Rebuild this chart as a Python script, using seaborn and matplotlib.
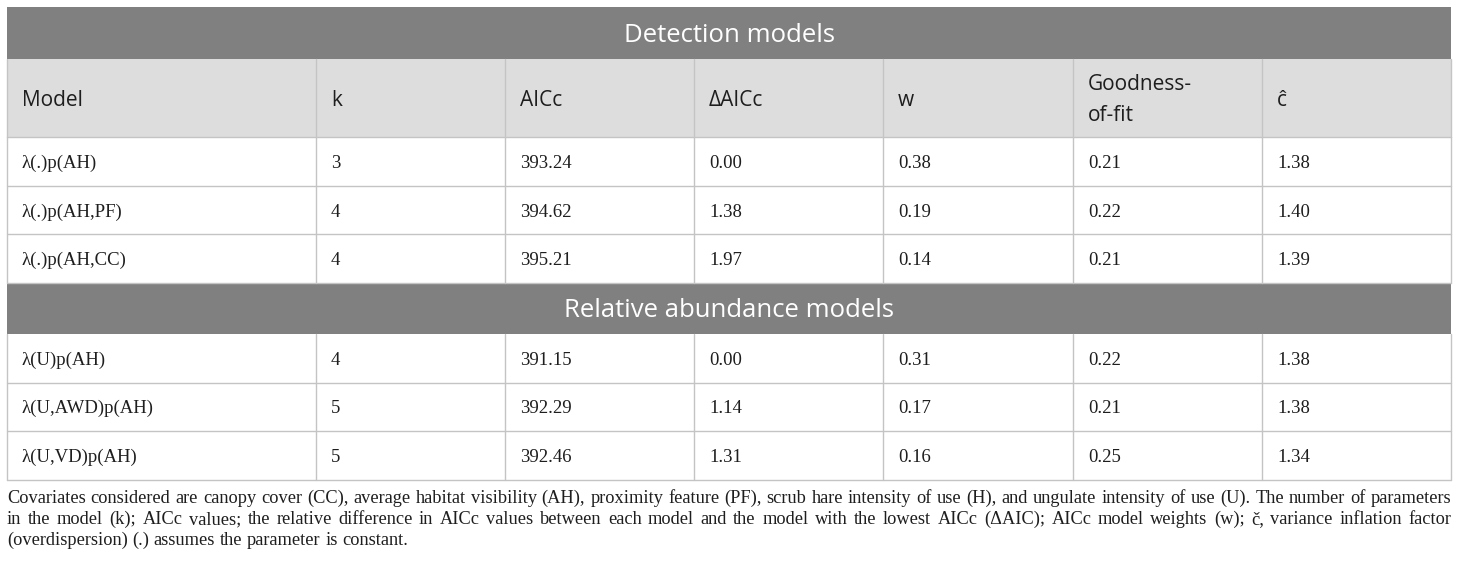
import numpy as np
import pandas as pd
import seaborn as sns
import matplotlib.pyplot as plt
from matplotlib.patches import Rectangle

# ==================================================
# Table content
# ==================================================

header_labels = ["Model", "k", "AICc", "\u0394AICc", "w", "Goodness-\nof-fit", "\u0109"]

det_title = "Detection models"
det_models = ["\u03bb(.)p(AH)", "\u03bb(.)p(AH,PF)", "\u03bb(.)p(AH,CC)"]
det_k = [3, 4, 4]
det_aicc = [393.24, 394.62, 395.21]
det_daicc = [0.00, 1.38, 1.97]
det_w = [0.38, 0.19, 0.14]
det_gof = [0.21, 0.22, 0.21]
det_chat = [1.38, 1.40, 1.39]

abd_title = "Relative abundance models"
abd_models = ["\u03bb(U)p(AH)", "\u03bb(U,AWD)p(AH)", "\u03bb(U,VD)p(AH)"]
abd_k = [4, 5, 5]
abd_aicc = [391.15, 392.29, 392.46]
abd_daicc = [0.00, 1.14, 1.31]
abd_w = [0.31, 0.17, 0.16]
abd_gof = [0.22, 0.21, 0.25]
abd_chat = [1.38, 1.38, 1.34]

footnote_lines = [
    "Covariates considered are canopy cover (CC), average habitat visibility (AH), proximity feature (PF), "
    "scrub hare intensity of use (H), and ungulate intensity of use (U). The number of parameters",
    "in the model (k); AICc values; the relative difference in AICc values between each model and the model "
    "with the lowest AICc (\u0394AIC); AICc model weights (w); \u010d, variance inflation factor",
    "(overdispersion) (.) assumes the parameter is constant.",
]


def make_frame(models, k, aicc, daicc, w, gof, chat):
    return pd.DataFrame({
        "Model": models,
        "k": [str(v) for v in k],
        "AICc": [f"{v:.2f}" for v in aicc],
        "dAICc": [f"{v:.2f}" for v in daicc],
        "w": [f"{v:.2f}" for v in w],
        "gof": [f"{v:.2f}" for v in gof],
        "chat": [f"{v:.2f}" for v in chat],
    })


det_df = make_frame(det_models, det_k, det_aicc, det_daicc, det_w, det_gof, det_chat)
abd_df = make_frame(abd_models, abd_k, abd_aicc, abd_daicc, abd_w, abd_gof, abd_chat)

# ==================================================
# Styling / layout (pixel coordinates)
# ==================================================

sns.set_theme(style="white")
plt.rcParams["font.family"] = ["Open Sans", "DejaVu Sans"]

BAND = "#7f807f"
HEAD = "#dddddd"
GRID = "#c4c4c4"
TXT = "#1e1e1e"
SANS = ["Open Sans", "DejaVu Sans"]
SERIF = ["Liberation Serif", "DejaVu Serif"]
FOOT_SIZE = 13.2

col_edges = [7, 316, 505, 694, 883, 1073, 1262, 1451]
pad = 15

fig = plt.figure(figsize=(14.6, 5.66), dpi=100)
ax = fig.add_axes([0, 0, 1, 1])
ax.set_xlim(0, 1460)
ax.set_ylim(566, 0)
ax.axis("off")

left, right = col_edges[0], col_edges[-1]


def band(y0, y1, title):
    ax.add_patch(Rectangle((left, y0), right - left, y1 - y0, facecolor=BAND, edgecolor="none"))
    ax.text((left + right) / 2, (y0 + y1) / 2 + 2, title, color="white", fontsize=18.5,
            family=SANS, ha="center", va="center")


def vlines(y0, y1):
    for x in col_edges:
        ax.plot([x, x], [y0, y1], color=GRID, lw=1)


def body(df, y0, row_h):
    for i, row in enumerate(df.itertuples(index=False)):
        top = y0 + i * row_h
        for j, val in enumerate(row):
            ax.text(col_edges[j] + pad, top + row_h / 2 + 6.5, val, color=TXT,
                    fontsize=13.5, family=SERIF, ha="left", va="baseline")
        ax.plot([left, right], [top + row_h, top + row_h], color=GRID, lw=1)
    vlines(y0, y0 + len(df) * row_h)


# Detection block
band(7, 59, det_title)
ax.add_patch(Rectangle((left, 59), right - left, 78, facecolor=HEAD, edgecolor="none"))
for j, lab in enumerate(header_labels):
    lines = lab.split("\n")
    base = 106 if len(lines) == 1 else 90
    for n, line in enumerate(lines):
        ax.text(col_edges[j] + pad, base + n * 31, line, color=TXT, fontsize=15,
                family=SANS, ha="left", va="baseline")
ax.plot([left, right], [137, 137], color=GRID, lw=1)
vlines(59, 137)
body(det_df, 137, 48.7)

# Abundance block
band(283, 334, abd_title)
body(abd_df, 334, 48.5)

# ==================================================
# Footnote, justified like the source
# ==================================================

fig.canvas.draw()
renderer = fig.canvas.get_renderer()
px = (ax.transData.transform((1, 0))[0] - ax.transData.transform((0, 0))[0])


def text_width(s):
    t = ax.text(0, 0, s, fontsize=FOOT_SIZE, family=SERIF)
    bb = t.get_window_extent(renderer)
    t.remove()
    return bb.width / px


nat_gap = text_width("a a") - text_width("aa")
foot_base = [503, 524, 545]

for li, line in enumerate(footnote_lines):
    words = line.split(" ")
    widths = [text_width(wd) for wd in words]
    if li < len(footnote_lines) - 1:
        gap = (right - left - sum(widths)) / (len(words) - 1)
    else:
        gap = nat_gap
    x = left
    for wd, wdt in zip(words, widths):
        ax.text(x, foot_base[li], wd, color=TXT, fontsize=FOOT_SIZE, family=SERIF,
                ha="left", va="baseline")
        x += wdt + gap

fig.savefig("out.png", dpi=100, facecolor="white")
